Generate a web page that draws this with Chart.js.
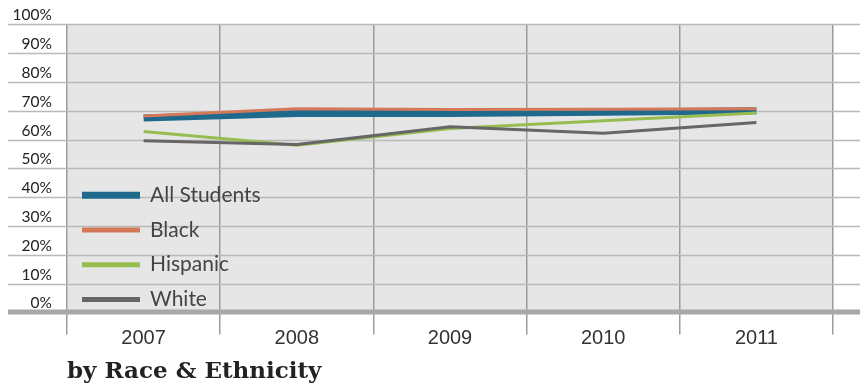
<!DOCTYPE html>
<html>
<head>
<meta charset="utf-8">
<script src="https://cdn.jsdelivr.net/npm/chart.js@4.4.1/dist/chart.umd.min.js"></script>
<style>
  body { margin: 0; background: #fff; }
  #chart { display: block; }
</style>
</head>
<body>
<canvas id="chart" width="860" height="389"></canvas>
<script>
const years = ['2007', '2008', '2009', '2010', '2011'];
const allStudents = [67.5, 69, 69, 69.5, 70];
const black = [68.2, 70.7, 70.4, 70.5, 70.7];
const hispanic = [62.8, 58, 63.8, 66.5, 69.2];
const white = [59.6, 58.3, 64.4, 62.2, 65.9];
const yTickLabels = ['0%', '10%', '20%', '30%', '40%', '50%', '60%', '70%', '80%', '90%', '100%'];

// gray panel + long horizontal rules that run past the plot on both sides
const panelPlugin = {
    id: 'panel',
    beforeDraw: (chart) => {
        const { ctx, chartArea } = chart;
        ctx.save();
        ctx.fillStyle = '#e6e6e6';
        ctx.fillRect(chartArea.left, chartArea.top, chartArea.right - chartArea.left, chartArea.bottom - chartArea.top);
        ctx.restore();
    },
    beforeDatasetsDraw: (chart) => {
        const { ctx, width } = chart;
        const y = chart.scales.y;
        ctx.save();
        y.ticks.forEach((t) => {
            const py = Math.round(y.getPixelForValue(t.value));
            if (t.value === 0) {
                ctx.strokeStyle = '#a8a8a8';
                ctx.lineWidth = 5;
            } else {
                ctx.strokeStyle = '#b9b9b9';
                ctx.lineWidth = 1.5;
            }
            ctx.beginPath();
            ctx.moveTo(8, py + (t.value === 0 ? 0 : 0.5));
            ctx.lineTo(width, py + (t.value === 0 ? 0 : 0.5));
            ctx.stroke();
        });
        ctx.restore();
    }
};

// legend drawn inside the plot, lower left
const legendPlugin = {
    id: 'insideLegend',
    afterDatasetsDraw: (chart) => {
        const { ctx, chartArea } = chart;
        ctx.save();
        ctx.font = '21px Lato';
        ctx.textBaseline = 'middle';
        chart.data.datasets.forEach((ds, i) => {
            const y = chartArea.top + 171 + i * 34.7;
            ctx.strokeStyle = ds.borderColor;
            ctx.lineWidth = Math.max(5, ds.borderWidth);
            ctx.beginPath();
            ctx.moveTo(chartArea.left + 15, y);
            ctx.lineTo(chartArea.left + 73, y);
            ctx.stroke();
            ctx.fillStyle = '#444';
            ctx.fillText(ds.label, chartArea.left + 83, y);
        });
        ctx.restore();
    }
};

new Chart(document.getElementById('chart').getContext('2d'), {
    type: 'line',
    data: {
        labels: years,
        datasets: [
            { label: 'All Students', data: allStudents, borderColor: '#1f6a8c', borderWidth: 7, order: 4 },
            { label: 'Black', data: black, borderColor: '#d4785a', borderWidth: 3, order: 1 },
            { label: 'Hispanic', data: hispanic, borderColor: '#97bd50', borderWidth: 3, order: 3 },
            { label: 'White', data: white, borderColor: '#666666', borderWidth: 3, order: 2 }
        ]
    },
    options: {
        responsive: false,
        animation: false,
        devicePixelRatio: 1,
        layout: { padding: { top: 22, right: 27, left: 0, bottom: 0 } },
        elements: {
            point: { radius: 0 },
            line: { tension: 0, borderCapStyle: 'butt', borderJoinStyle: 'round' }
        },
        scales: {
            x: {
                type: 'category',
                offset: true,
                grid: { offset: true, color: '#9c9c9c', lineWidth: 1.5, tickLength: 22, drawTicks: true },
                border: { display: false },
                ticks: { color: '#333', font: { family: 'Liberation Sans', size: 20 }, padding: -8 },
                afterFit: (s) => { s.height = 40; }
            },
            y: {
                min: 0,
                max: 100,
                grid: { display: false, drawTicks: false },
                border: { display: false },
                ticks: {
                    stepSize: 10,
                    padding: 15,
                    labelOffset: -9,
                    color: '#222',
                    font: { family: 'Lato', size: 15.5 },
                    callback: (v, i) => yTickLabels[i]
                },
                afterFit: (s) => { s.width = 67; }
            }
        },
        plugins: {
            legend: { display: false },
            tooltip: { enabled: false },
            title: {
                display: true,
                text: 'by Race & Ethnicity',
                position: 'bottom',
                align: 'start',
                fullSize: false,
                color: '#222',
                font: { family: 'DejaVu Serif', size: 23, weight: 'bold', lineHeight: 1.2 },
                padding: { top: 6, bottom: 3 }
            }
        }
    },
    plugins: [panelPlugin, legendPlugin]
});
</script>
</body>
</html>
